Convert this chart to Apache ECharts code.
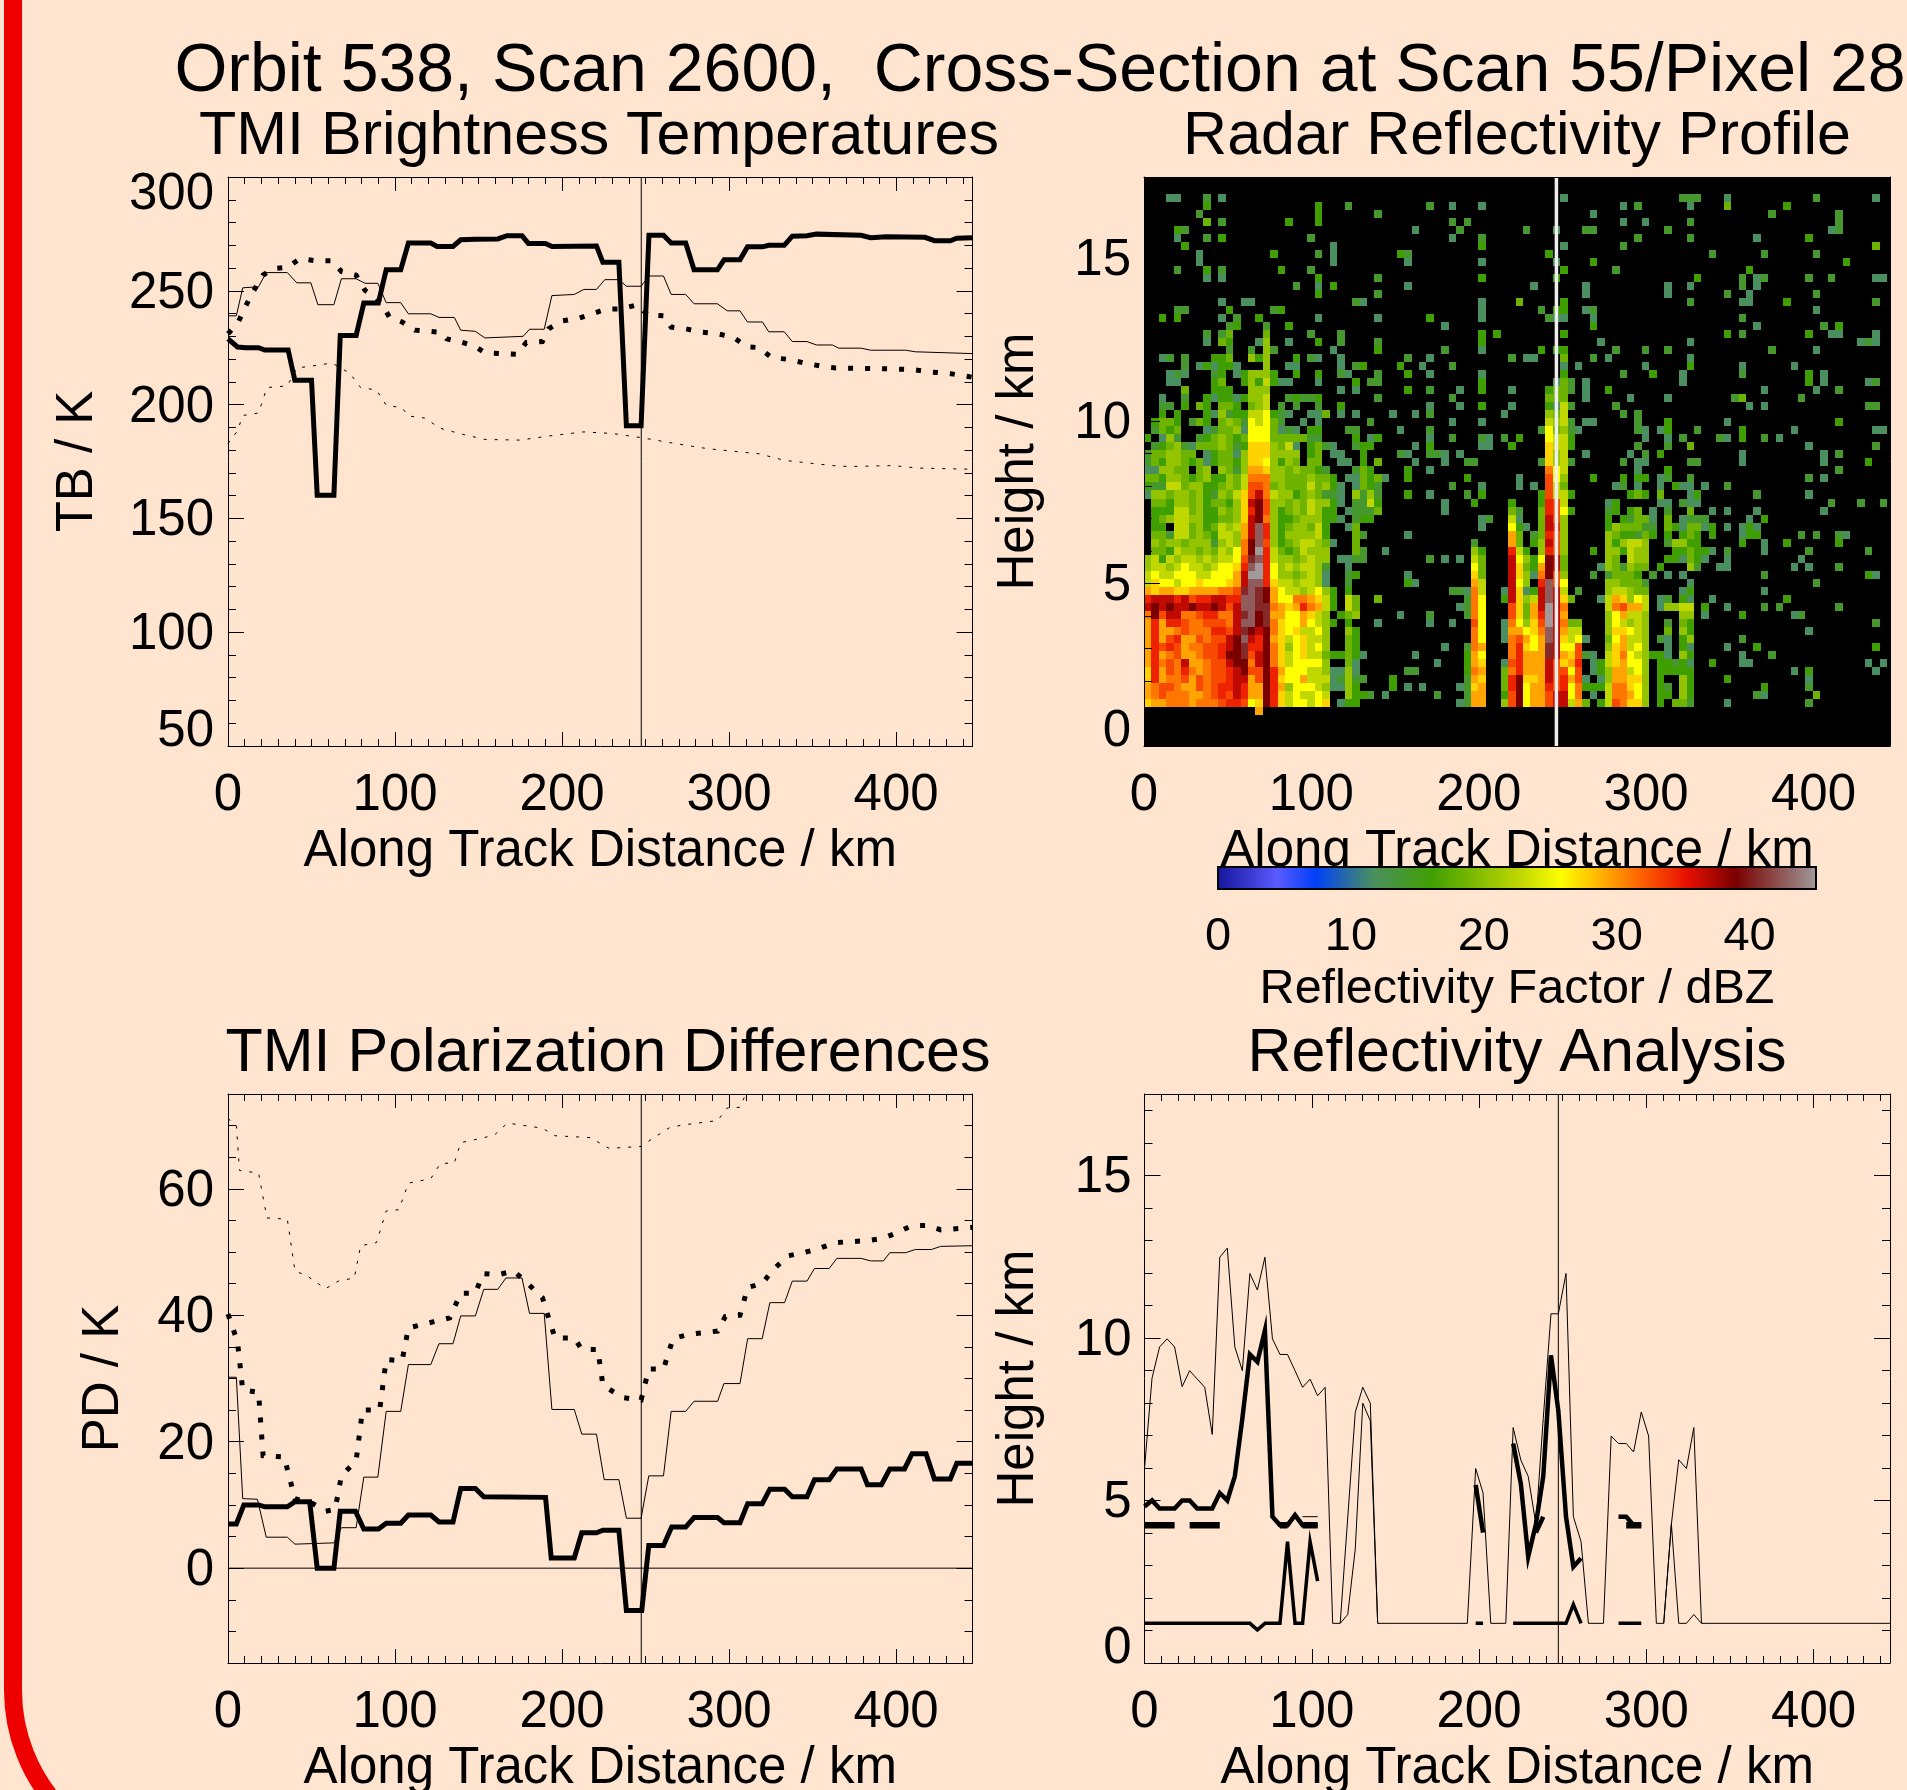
<!DOCTYPE html>
<html><head><meta charset="utf-8">
<style>html,body{margin:0;padding:0;background:#ffe4cf}#c{width:1907px;height:1790px}</style>
<script src="https://cdn.jsdelivr.net/npm/echarts@6/dist/echarts.min.js"></script>
</head><body><div id="c"></div>
<script>
// ---- text
const mainTitle = 'Orbit 538, Scan 2600,  Cross-Section at Scan 55/Pixel 28';
const panelTitles = ['TMI Brightness Temperatures','Radar Reflectivity Profile','TMI Polarization Differences','Reflectivity Analysis'];
const xName = 'Along Track Distance / km';
// ---- ticks
const xMax = 445.7, trackKm = 247.4, radarTrackKm = 246.4;
const distTicks = [0,100,200,300,400];
const tbTicks = [50,100,150,200,250,300];
const pdTicks = [0,20,40,60];
const hTicks = [0,5,10,15];
const dbzTicks = [0,10,20,30,40];
// ---- TB panel: [km, K]
const tbThick = [[0,228.9],[5.7,225.3],[10.7,225],[18.3,225],[22,224],[36,224],[40,210.7],[50,210.7],[53.4,160.2],[63.4,160.2],[67.2,230.4],[76.7,230.4],[81.3,244.6],[90,244.6],[94.7,259.2],[103.4,259.2],[108,271],[121.4,271],[125.2,269.5],[134.7,269.5],[139.3,272.4],[148,272.6],[161.5,272.8],[167,274.2],[176,274.2],[179.8,270.8],[190,270.8],[194,269.5],[220.6,269.7],[224.4,262.5],[234,262.5],[238.5,190.7],[247.3,190.7],[252,274.4],[260.7,274.4],[265.3,271],[274,271],[279,259.2],[293,259.2],[297,263.6],[306.5,263.6],[311,269.3],[320,269.3],[323.7,270],[333,270],[337.8,274],[346.6,274.2],[352.3,274.9],[379,274.4],[384.7,273.3],[394.3,273.7],[417.2,273.5],[423,272],[432.4,272],[436.3,273.1],[445.8,273.3]];
const tbThin = [[0,239],[5,239],[8.8,251.3],[18.3,251.8],[22.9,258],[35.5,258],[41.2,253.5],[49.6,253.5],[53.8,243.9],[63.4,243.9],[67.9,255.3],[76.7,255.3],[82,253.3],[89.7,253.3],[94.7,244.8],[103.4,244.8],[108,239.9],[121.4,239.9],[126.3,238.3],[135.5,238.3],[139.3,232.7],[148,232.2],[153.8,229.3],[176.7,230],[180.5,233.1],[189.3,233.1],[193.9,247.9],[207.3,248.4],[213,250.6],[220.6,250.6],[225.6,254.9],[234,254.9],[238.5,252],[247.3,252],[252,256.5],[260.7,256.5],[265.3,248.4],[274,248.4],[279,244.3],[293,244.3],[298.9,241.2],[306.5,241.2],[311,236.3],[320,236.3],[323.7,232],[333,232],[337.8,227.7],[346.6,227.7],[352.3,226.2],[361.8,226.2],[365.6,224.8],[379,224.8],[384.7,223.9],[405.7,223.9],[411.5,223.2],[445.8,222.4]];
const tbDotThick = [[0,231.1],[5.7,235.6],[10.7,243.4],[14.5,249],[21,256.9],[27.1,259.8],[35.5,260.3],[43.1,264.1],[52.7,263.2],[62.2,263.2],[67.9,258.5],[76.7,256.9],[82,250.2],[88.9,246.8],[92.7,243.4],[96.6,238.5],[104.2,236.3],[111.8,232.7],[127.1,231.8],[130.9,228.9],[138.5,227.7],[148.1,225.5],[153.8,222.8],[172.9,222.1],[178.6,227.3],[188.2,227.7],[192,233.3],[199.6,236.7],[209.2,237.8],[216.8,239.6],[226.3,241.9],[235.9,242.1],[245.4,243.9],[251.1,239.4],[260.7,239],[265.3,234],[274,233.3],[283.6,231.8],[293.1,231.1],[302.7,229.5],[310.3,225.5],[317.9,225],[325.6,220.6],[335.1,219.9],[344.7,218.3],[354.2,217],[363.7,216.1],[390.5,215.8],[409.5,215.4],[421,214.3],[432.4,213.6],[445.8,212]];
const tbDotThin = [[0,182.9],[5.7,188.5],[8.8,195.2],[18.3,196.3],[23.3,207.5],[35.5,208.2],[41.2,216.1],[50.8,217],[62.2,218.3],[72.9,213.8],[79.4,207.5],[88.9,206.4],[94.7,199.7],[104.2,198.6],[108,195],[117.6,194.1],[127.1,189.6],[138.5,187.3],[153.8,184.7],[174.8,184.4],[192,186.2],[213,188],[230.2,187.3],[247.3,185.5],[264.5,183.3],[277.9,181.7],[287.4,180.6],[317.9,178.4],[333.2,175.5],[361.8,173.2],[371.4,172.8],[398.1,173.2],[413.4,172.1],[445.8,171.6]];
// ---- PD panel: [km, K]
const pdThick = [[0,7],[5,7],[9.5,10],[18.3,10],[22.1,9.7],[35.5,9.7],[40.1,10.5],[48.9,10.5],[53.4,0],[63.4,0],[67.2,9],[76.3,9],[81.3,6.2],[90.1,6.2],[94.7,7.1],[103.4,7.1],[108,8.4],[121.4,8.4],[126.3,7.3],[134.7,7.3],[139.3,12.6],[148.1,12.6],[153.1,11.3],[190.1,11.2],[193.5,1.6],[207.3,1.6],[211.8,5.6],[220.6,5.6],[224.4,6],[234,6],[238.5,-6.7],[247.7,-6.7],[251.9,3.6],[260.7,3.6],[265.6,6.5],[274,6.5],[279,8],[293.1,8],[296.9,7.2],[306.5,7.2],[311.1,10.2],[319.8,10.2],[324.4,12.5],[333.2,12.5],[337.8,11.3],[346.6,11.3],[351.1,14],[359.9,14],[364.5,15.7],[379,15.7],[382.8,13.2],[391.2,13.2],[396.2,15.7],[405,15.7],[409.5,18.1],[417.9,18.1],[422.9,14.1],[432.4,14.1],[436.3,16.6],[445.8,16.6]];
const pdThin = [[0,30.2],[5,30.2],[8.8,11],[17.6,10.9],[22.9,4.9],[35.5,4.9],[40.1,3.8],[63.4,4],[67.9,6.4],[76.7,6.4],[81.3,14.4],[89.7,14.4],[94.7,24.8],[103.4,24.8],[108,32.2],[121.4,32.2],[126.3,35.5],[134.7,35.5],[139.3,39.9],[148.1,39.9],[153.1,44.1],[161.5,44.1],[166.4,45.9],[176,45.9],[180.5,40.3],[189.3,40.3],[193.9,25.1],[207.3,25.1],[211.8,21.2],[220.6,21.2],[225.2,14],[234,14],[238.5,7.9],[247.3,7.9],[251.9,14.6],[260.7,14.6],[265.3,24.8],[274,24.8],[279,26.4],[293.1,26.4],[296.9,29.2],[306.5,29.2],[311.1,36.3],[319.8,36.3],[324.4,42],[333.2,42],[337.8,45.4],[346.6,45.4],[351.1,47.4],[359.9,47.4],[364.5,49],[379,49],[384.7,48.6],[392.4,48.6],[396.2,49.9],[405.7,49.9],[411.5,50.4],[421,50.4],[426.7,50.9],[445.8,51]];
const pdDotThick = [[0,40.2],[5.7,35.8],[8.8,28.2],[18.3,27.8],[21,17.8],[33.6,17.6],[40.1,11],[50.8,10.2],[58.4,9],[64.1,9.3],[67.9,14.6],[76.7,17],[80.5,25],[90.8,25],[94.7,33],[104.2,32.8],[108,38],[123.3,39],[132.8,39.6],[139.3,43.5],[148.1,43.5],[152.7,46.6],[161.5,46.4],[171,47],[176.7,45.7],[188.2,42.8],[191.2,40.2],[195.8,36.4],[207.3,36.4],[211.8,34.6],[221.4,34.6],[224.4,29],[235.9,27],[247.3,26.6],[251.9,31.5],[260.7,31.5],[266.4,36.3],[276,37],[293.1,37.5],[297.7,39.8],[306.5,40],[311.1,44.4],[319.8,45],[325.6,47],[335.1,49.4],[344.7,49.9],[354.2,50.6],[363.7,51.5],[382.8,51.8],[392.4,52.2],[400,53],[409.5,54.2],[419.1,54.2],[426.7,53.5],[445.8,53.9]];
const pdDotThin = [[0,71.1],[5,70.1],[6.9,62.9],[18.3,62.5],[23.3,55.4],[35.5,55.2],[40.1,47],[46.9,46.3],[58.4,44.2],[66,45.4],[75.6,45.9],[79.4,51],[88.9,51.5],[94.7,56.5],[102.3,56.7],[108,60.9],[121.4,61.6],[127.1,64],[135.5,64.1],[139.3,67.3],[150,67.9],[159.5,68.5],[167.2,70.4],[188.2,69.6],[195.8,68.4],[216.8,68.1],[228.2,66.4],[247.3,66.7],[255,68.1],[264.5,69.7],[272.1,70.1],[293.1,70.8],[298.9,72.8],[306.5,72.9],[310.3,75.2]];
const pdZero = [[0,0],[xMax,0]];
// ---- reflectivity analysis: [km, height km]
const topThin = [[0,5.98],[4.5,8.76],[9,9.72],[13.5,9.97],[18,9.72],[22.5,8.5],[27,8.99],[36,8.48],[40.5,7.03],[45,12.48],[49.5,12.76],[54,9.72],[58.5,8.99],[63,11.98],[67.5,11.47],[72,12.48],[76.5,9.97],[81,9.49],[85.5,9.49],[90,8.99],[94.5,8.48],[99,8.73],[103.5,8.22],[108,8.48],[112.5,1.22],[117,1.22],[126,7.71],[130.5,8.48],[135,7.99],[139.4,1.22],[193,1.22],[198,5.98],[202.4,5.23],[207,1.22],[216,1.22],[220.4,7.24],[225,6.24],[229.4,5.74],[234,4.27],[238.4,7.52],[243,10.74],[247.4,10.74],[252,11.98],[256.4,4.5],[261,3.73],[265.4,1.22],[274.4,1.22],[279,6.98],[283.4,6.75],[288,6.75],[292.4,6.49],[297,7.72],[301.4,6.98],[306,1.22],[310.4,1.22],[315,4.27],[319.4,6.25],[324,5.98],[328.4,7.24],[333,1.22],[445.7,1.22]];
const lowThinA = [[117,1.22],[121.5,1.49],[126,3.5],[130.5,7.99],[135,7.45],[139.4,1.22]];
const lowThinB = [[310.4,1.22],[315,4.27],[319.4,1.22],[324,1.22],[328.4,1.49],[333,1.22]];
const lowThinC = [[94.5,4.5],[103.5,4.5]];
const midThick = [
 [[0,4.81],[4.5,5],[9,4.75],[18,4.75],[22.5,5],[27,5],[31.5,4.75],[40.5,4.75],[45,5.23],[49.5,5],[54,5.74],[58.5,7.52],[63,9.49],[67.5,9.26],[72,10.23],[76.5,4.5],[81,4.24],[85.5,4.24],[90,4.55],[94.5,4.24],[103.5,4.24]],
 [[198,5.48],[202.4,4.01]],
 [[220.4,6.75],[225,5.51],[229.4,3.27],[234,4.27],[238.4,5.74],[243,9.46],[247.4,7.76],[252,4.5],[256.4,2.96],[261,3.22]],
 [[283.4,4.5],[288,4.5],[292.4,4.24],[297,4.24]],
 [[234,4.01],[238.4,4.5]]
];
const baseThick = [
 [[0,1.22],[63,1.22],[67.5,1.02],[72,1.22],[81,1.22],[85.5,3.73],[90,1.22],[94.5,1.22],[99,3.73],[103.5,2.52]],
 [[198,1.22],[202.4,1.22]],
 [[220.4,1.22],[252,1.22],[256.4,1.8],[261,1.22]],
 [[283.4,1.22],[297,1.22]]
];
const barThick = [
 [[0,4.24],[18,4.24]],[[27,4.24],[45,4.24]],[[81,4.24],[85.5,4.24]],[[94.5,4.24],[103.5,4.24]],[[288,4.24],[297,4.24]]
];
// ---- radar profile: one entry per range bin from the top. "start column + level letters"
const yMaxKm = 17.5, cellKm = 4.44, binKm = 0.2466, baseKm = 1.2;
const levelDbz = {t:11.7,g:14,G:16.1,l:18.5,L:20.5,y:22.8,Y:25.8,o:27.5,a:29.3,O:31,r:32.8,R:34.4,d:36.6,D:38.9,m:40.5,n:42.5,w:45};
const radarBins = [
"","",
"3tt 8g 10t 56t 72ggg 78t 90g 98t",
"8G 23G 27g 38g 41t 45t 64t 66g 73t 78l 86G",
"7g 23G 31g 60t 84g 93g",
"8l 10g 19G 23G 41g 43g 64t 67t 73g 93g",
"4Gg 36t 42g 51g 55t 59gg 70g 92t 93g",
"4t 8g 10G 22g 41t 45g 66g 73g 82t 89G",
"5G 25t 45G 56t 64g 98l",
"7t 17G 23g 25t 34Gg 54G 76g 83g 90g",
"7t 25t 35t 45t 55t 60G 94G",
"4g 8G 10g 18G 22g 56G 63g 81G",
"8t 10t 23G 31g 45G 55G 74G 80g 82tg 89g 92g 98tt",
"20g 23t 25G 35t 52t 59t 70t 73t 80g 82t",
"23G 31g 59t 70t 78g 81t 90g",
"10t 13tt 28gt 45t 50l 56G 73g 80tt 86G 98g",
"4gg 11G 17gG 45t 53g 55GG 59tg 90t",
"2G 4G 10t 12g 15G 23t 31t 38G 45t 54gtt 60t 80g",
"11gG 16g 19G 40t 60G 82t 91g 93G",
"8g 10gl 16l 22g 26g 45G 47G 56G 78G 80g 89G 92tt 98t",
"8t 10lG 15tL 19t 23G 26g 31g 45G 61t 73t 96tgt",
"11g 14g 16Lg 25t 31G 40g 45t 53G 55GG 63g 67g 70g 84g 90t",
"2tg 5g 9GGl 14LGL 20G 22gt 26t 35g 38t 49g 51tt 56l 60g 62t 73t",
"5g 7tG 9tGG 12t 16L 19tt 26t 28gG 34G 37t 41g 56t 58t 67t 73G 80t 87t",
"3tgt 9gG 12tG 14LLL 17G 20G 23G 26gt 31g 35G 38t 45t 56G 64g 68G 72t 80g 89G 91t",
"3tt 9Gl 13GLGyG 18tt 23t 28G 30gg 45G 55tlg 59t 72t 89G 91t 97tg",
"5l 9GGG 14LLL 26t 28t 35G 38g 42t 45G 49t 54Gll 57g 59t 62G 83t 90t 93g",
"2t 5g 8GtGGtG 14LLy 19gG 21ggG 31g 41g 54lll 59t 65t 70t 79gl 88g",
"2gg 5G 7lG 10llG 14lLy 18g 20g 23g 26G 38t 42t 45G 49t 54Gty 57g 63g 81t 83t 97gg",
"2G 4G 8G 9tLgG 13GyyY 17Gg 19t 22tt 24l 26t 28t 33t 36t 38g 48t 54Lly 64g 66g",
"1G 2ll 4G 6gl 8G 10lLlg 14YyY 17lg 21t 23t 30g 41t 45t 54yLyg 59tt 66g 70G 78t 93G",
"1gl 3Gl 8tgllLt 14YYY 17lt 19gt 22GG 27gg 34t 38g 53gY 55lLgt 66gt 69tG 74g 80G 87t 98tt",
"0G 2tLg 7gGlLlGl 14YYY 17lllllg 23g 28G 30tG 38t 41g 45gt 48g 50G 54Yyy 57G 67t 70t 72g 77gt 80G 83g 85t",
"1gGlLgt 7lllLl 12gG 14ooo 17Lly 20t 22Gl 24gt 28gGG 36t 38G 45tt 49G 54oyyG 66g 70g 73l 89t 98g",
"0g 1llLLll 8tGll 12tL 14ooo 17LLLL 22Gl 25tt 29G 34gt 38ggt 42t 54oLy 59t 65t 67g 69G 80t 91t 93g",
"0glGLLlGlt 9GllGL 14ooY 17LGLl 22ll 26tt 29G 31l 36t 40t 43gg 53goLyg 64g 66tt 73gg 80t 91t 97G",
"0ttLLll 7lL 10LlgL 14aao 17LLlLllGg 28glG 35G 38t 54OYy 66t 70G 93g",
"0llGLLlGlLGGLlyOOOLLlllLllG 27ttlGlt 35G 43G 50t 54rYL 60G 64G 66GG 69tg 73g 89g 91t",
"0GggyylLLGGlLlyrrOlLlllylLGt 28tlGg 41g 45t 50t 52t 54ryl 63tg 66t 69t 71Gtt 75t 78g",
"0tLLlLLlLGgLlyordOyLLGlLlggt 28LgLg 35G 38t 43g 45G 53G 54ryy 57G 65GlG 69l 73tG 82g 89t",
"1llGLLlLGllGLodDrLLlLlyLLGt 28ggyG 40t 44G 49G 53GRry 62tG 69tt 72gtt 92g 96g 99g",
"1GGGyylLGGLlLoRDrLGlLlyLGG 27tgggl 40t 49lg 53lRrYG 62gG 65Gl 68t 70g 73l 76t 78t 82t 91t",
"1GlLyyLLGGllLodDOLGGlLLLGGt 28gGG 45tg 49yt 53ldrL 62G 64Ggllt 70l 72tggg 81t 83G",
"1GG 4yylLGlyLyadnRLGlLLlyG 27tl 45t 49YGt 53ldRL 62GLlllg 68g 70lG 72tllt 76G 78t 80tGt",
"1llg 4yylLlGyyLadnRLGLLLLyG 28lg 35t 49al 52glR 55rL 62LlGGglG 70G 72GlG 76G 80tGG 88g 90g 93gt",
"1LlLLlLLLgLyLODnrLGlLyyLlt 28l 44g 49al 52GLdrL 62LGLyyL 70gLLGG 80G 83t 86G 93G",
"1llGyLLlLlyLYODwRylGlyLLL 28lg 32t 44LG 49RyG 53LRrL 60G 62LLGyLL 71GGlGGt 78g 83t 89g 97g",
"0LyGyLyyLyLyyYrmnRyLLlLyLL 26ttgg 38g 40t 42t 44yl 49dYLGYDdl 62Ll 65yLL 70GGt 73lGt 78t 88t",
"0LyyLyYyyLyYYoRnwRYLyLyyLg 27t 44Yl 49dolGaDdl 61tLlgLll 69G 73Lg 77tt 87t 89t 93g",
"0yYyyYYYyyYYYadwwRYLLlLyLt 27gG 35t 44ol 49doLtODrL 60g 62glllG 68g 70t 72t 83g 97Gt",
"0yoYYyYYoYYYoadnnRoyyLyyLt 27g 35Gt 44ay 49dYL 53RnrY 62LLlllg 73t 90g",
"0aoaaooaaaaOOrmnmDaYyyLyYLG 27G 41ggt 44Oy 48tdotGdndy 58g 62LyyLll 72tG 83t",
"0RdddRdrRRddRRnnmDaYYOOaoyG 27yl 31l 43g 44OY 48GdoLydndol 61tyaoLYy 69tg 72Gt 76t 86G",
"0dDdDddDddDdrdnnmmOaoaROayG 27yl 42tg 44OY 49roladwdO 62yOraay 69tLLyy 75G 78t 83g 85g 93g",
"0ODrddOOrRROOdmnDmaaYYaoyL 26GlL 34t 38g 43g 44OY 49rolaRwda 62LYayyL 72LL 75t 80G 87tg",
"0aRaRRrOOrrrOdnnDmOoYYaYyLG 27G 31t 38t 41t 44rY 48tOYLorwdOll 62LYyLyL 70g 72lG 98g",
"0aRaaOrOOORRrdmDdDOoYoyyYL 27LG 44OY 48taaYoOndayy 62LooYyL 70l 72LG 89t",
"0aRarRaarOrrdDndRDaoyYoyyL 27lG 44OY 48tOraYandoyYt 62lYayyL 69gt 72GL 80g",
"0aRrRraOOrrRdDmRRDOoLYoyYL 27lG 40t 43g 44Oa 49ORoYamdYYr 62LoayYL 70t 72Gt 78t 82G 98G",
"0aRaOraaOrrRDDmrdDOoyYoyyl 25GGlGt 36t 43G 44aY 49ORaaamdaorgt 62yoOYyLGGt 72LG 80t 84g",
"0aROrOdaaOrrdDDOdDOoyYYYYL 27lt 39t 43G 44ao 48trRaaadroaR 60tGyoaYYL 69GGgGt 76G 80tt 97t 99t",
"0oRarOROaOrrRdDrrDRaYYYyyL 25ttLt 35gg 43G 44Oa 48lORaaadrrYr 60tGLaayYL 69GGGGG 87t 89G 98t",
"0oRaOOrarOrrRddarDRoYYayyy 25tgLgg 33G 43g 44ao 48lRDooadrRar 59t 61tLaaooL 69G 72LG 78G 89t",
"0aOrrOaarOrRRdRaaDRaLYYYyL 25ttLG 33G 35t 37t 42t 43g 44oa 48lRDYaaRrRYO 59GGGyOOoYL 69Gg 72LG 83G 89g",
"0aOrOOOaaOrRrdRaaDRoyYyyYy 27LGGg 32t 39g 43g 44aa 48GrDYaarddYO 60t 62yOOaYL 69GG 72LG 82gt 90l",
"0oaaOOOaOOOrRRrYoDRoyYYyYo 26tGG 42tg 44aa 48LrDYaarddyal 61GyrOooL 69G 71llg 78t 89g",
"15a"
];
// ---- colour bar: [dBZ, colour]
const dbzMax = 45;
const colorStops = [[0,'#14149a'],[4.5,'#5a5aff'],[7.4,'#0040f8'],[11.7,'#4a8f60'],[16.1,'#409f00'],[22.8,'#c0d800'],[25.8,'#ffff00'],[31.5,'#ff6a00'],[35.2,'#e81000'],[38.9,'#7a0000'],[45,'#a09a9a']];

// ---- helpers
function hex(c){return [1,3,5].map(i=>parseInt(c.substr(i,2),16));}
function dbzColor(v){
  for(let i=1;i<colorStops.length;i++){
    if(v<=colorStops[i][0]){
      const a=colorStops[i-1],b=colorStops[i],t=(v-a[0])/(b[0]-a[0]);
      const p=hex(a[1]),q=hex(b[1]);
      return 'rgb('+p.map((x,k)=>Math.round(x+(q[k]-x)*t)).join(',')+')';
    }
  }
  return colorStops[colorStops.length-1][1];
}
const radarCells=[];
radarBins.forEach((row,r)=>{
  row.split(' ').forEach(seg=>{
    const m=seg.match(/^(\d+)(\D+)$/); if(!m) return;
    const start=+m[1];
    [...m[2]].forEach((ch,i)=>{
      const c=start+i, top=baseKm+(66-r)*binKm;
      radarCells.push([c*cellKm,top-binKm,(c+1)*cellKm,top,levelDbz[ch]]);
    });
  });
});
function steps(min,max,step,skip){const a=[];for(let v=Math.ceil(min/step)*step;v<=max+1e-9;v+=step){if(!skip.includes(v))a.push(v);}return a;}

const FONT='Liberation Sans', INK='#000', TICK=51;
const panels=[
 {left:228,top:177,w:744.5,h:569,ymin:50,ymax:300,ticks:tbTicks,minor:10,yName:'TB / K',yGap:125,shiftMin:28,shiftMax:36,margin:14},
 {left:1144,top:177,w:746,h:569,ymin:0,ymax:yMaxKm,ticks:hTicks,minor:1,yName:'Height / km',yGap:100,shiftMin:29,shiftMax:0,margin:13,black:true},
 {left:228,top:1094,w:744.5,h:569,ymin:-15,ymax:75,ticks:pdTicks,minor:5,yName:'PD / K',yGap:99,shiftMin:0,shiftMax:0,margin:14},
 {left:1144.5,top:1094,w:745.5,h:569,ymin:0,ymax:yMaxKm,ticks:hTicks,minor:1,yName:'Height / km',yGap:100,shiftMin:29,shiftMax:0,margin:13}
];
const grid=[],xAxis=[],yAxis=[];
const lineS={color:INK,width:1};
const base={fontFamily:FONT,fontSize:TICK,color:INK};
panels.forEach((p,i)=>{
  grid.push({left:p.left,top:p.top,width:p.w,height:p.h,outerBoundsMode:'none',show:!!p.black,backgroundColor:p.black?'#000':'transparent',borderWidth:0});
  const xBase={type:'value',gridIndex:i,min:0,max:xMax,splitLine:{show:false},z:5,silent:true};
  const yBase={type:'value',gridIndex:i,min:p.ymin,max:p.ymax,splitLine:{show:false},z:5,silent:true};
  const minorX=steps(0,xMax,10,distTicks), minorY=steps(p.ymin,p.ymax,p.minor,p.ticks);
  const on={onZero:false,lineStyle:lineS}, off={show:false,onZero:false};
  const lo=p.ticks[0], hi=p.ticks[p.ticks.length-1];
  xAxis.push({...xBase,position:'bottom',name:xName,nameLocation:'middle',nameGap:80,nameMoveOverlap:false,
    nameTextStyle:{...base},axisLine:on,
    axisTick:{inside:true,length:14,customValues:distTicks,lineStyle:lineS},
    axisLabel:{customValues:distTicks,margin:24,...base,hideOverlap:false}});
  xAxis.push({...xBase,position:'top',axisLine:on,axisTick:{inside:true,length:14,customValues:distTicks,lineStyle:lineS},axisLabel:{show:false}});
  xAxis.push({...xBase,position:'bottom',axisLine:off,axisTick:{inside:true,length:7,customValues:minorX,lineStyle:lineS},axisLabel:{show:false}});
  xAxis.push({...xBase,position:'top',axisLine:off,axisTick:{inside:true,length:7,customValues:minorX,lineStyle:lineS},axisLabel:{show:false}});
  yAxis.push({...yBase,position:'left',name:p.yName,nameLocation:'middle',nameGap:p.yGap,nameRotate:90,nameMoveOverlap:false,
    nameTextStyle:{...base},axisLine:on,
    axisTick:{inside:true,length:16,customValues:p.ticks,lineStyle:lineS},
    axisLabel:{customValues:p.ticks,margin:p.margin,...base,hideOverlap:false,
      formatter:v=>(v===lo&&p.shiftMin)?'{low|'+v+'}':(v===hi&&p.shiftMax)?'{high|'+v+'}':'{mid|'+v+'}',
      rich:{mid:{...base,padding:[6,0,0,0]},low:{...base,padding:[0,0,p.shiftMin,0]},high:{...base,padding:[p.shiftMax,0,0,0]}}}});
  yAxis.push({...yBase,position:'right',axisLine:on,axisTick:{inside:true,length:16,customValues:p.ticks,lineStyle:lineS},axisLabel:{show:false}});
  yAxis.push({...yBase,position:'left',axisLine:off,axisTick:{inside:true,length:8,customValues:minorY,lineStyle:lineS},axisLabel:{show:false}});
  yAxis.push({...yBase,position:'right',axisLine:off,axisTick:{inside:true,length:8,customValues:minorY,lineStyle:lineS},axisLabel:{show:false}});
});
// colour-bar grid
grid.push({left:1218,top:867,width:598,height:22,show:false,outerBoundsMode:'none'});
xAxis.push({type:'value',gridIndex:4,min:0,max:dbzMax,position:'bottom',splitLine:{show:false},axisLine:{show:false,onZero:false},axisTick:{show:false},
  name:'Reflectivity Factor / dBZ',nameLocation:'middle',nameGap:76,nameMoveOverlap:false,nameTextStyle:{fontFamily:FONT,fontSize:48.5,color:INK},
  axisLabel:{customValues:dbzTicks,margin:25,fontFamily:FONT,fontSize:47,color:INK,hideOverlap:false}});
yAxis.push({type:'value',gridIndex:4,min:0,max:1,show:false});

const ax=i=>({xAxisIndex:4*i,yAxisIndex:4*i});
function line(panel,data,width,dash,z){
  return {type:'line',...ax(panel),data,showSymbol:false,symbol:'none',animation:false,silent:true,z:z||3,
    lineStyle:{color:INK,width,type:dash||'solid',cap:'butt',join:'miter'}};
}
const DOT_THICK=[5,12], DOT_THIN=[3,8];
const series=[];
// TB
series.push(line(0,tbThin,1),line(0,tbDotThin,1,DOT_THIN),line(0,tbDotThick,5,DOT_THICK),line(0,tbThick,5));
series.push(line(0,[[trackKm,50],[trackKm,300]],1));
// radar
series.push({type:'custom',...ax(1),data:radarCells,animation:false,silent:true,z:2,encode:{x:[0,2],y:[1,3]},
  renderItem(params,api){
    const a=api.coord([api.value(0),api.value(1)]),b=api.coord([api.value(2),api.value(3)]);
    const x=Math.round(a[0]),y=Math.round(b[1]);
    return {type:'rect',shape:{x,y,width:Math.round(b[0])-x,height:Math.round(a[1])-y},style:{fill:dbzColor(api.value(4)),stroke:null}};
  }});
series.push({...line(1,[[radarTrackKm,0],[radarTrackKm,yMaxKm]],3.5),z:4,lineStyle:{color:'#eeeeee',width:3.5}});
// PD
series.push(line(2,pdThin,1),line(2,pdDotThin,1,DOT_THIN),line(2,pdDotThick,5,DOT_THICK),line(2,pdThick,5),line(2,pdZero,1));
series.push(line(2,[[trackKm,-15],[trackKm,75]],1));
// analysis
series.push(line(3,topThin,1),line(3,lowThinA,1),line(3,lowThinB,1),line(3,lowThinC,1));
midThick.forEach(s=>series.push(line(3,s,4.5)));
baseThick.forEach(s=>series.push(line(3,s,3.5)));
barThick.forEach(s=>series.push(line(3,s,6.5)));
series.push(line(3,[[trackKm,0],[trackKm,yMaxKm]],1));
// colour bar
series.push({type:'custom',xAxisIndex:16,yAxisIndex:16,data:[[0,0,dbzMax,1]],animation:false,silent:true,z:10,encode:{x:[0,2],y:[1,3]},
  renderItem(params,api){
    const a=api.coord([api.value(0),api.value(1)]),b=api.coord([api.value(2),api.value(3)]);
    return {type:'rect',shape:{x:a[0],y:b[1],width:b[0]-a[0],height:a[1]-b[1]},
      style:{stroke:'#000',lineWidth:2,fill:new echarts.graphic.LinearGradient(0,0,1,0,colorStops.map(s=>({offset:s[0]/dbzMax,color:s[1]})))}};
  }});

const titleStyle=size=>({fontFamily:FONT,fontSize:size,fontWeight:'normal',color:INK});
const title=[{text:mainTitle,left:1040,top:72,textAlign:'center',textVerticalAlign:'middle',textStyle:titleStyle(68),padding:0}];
[[599,137],[1517,137],[608,1054],[1517,1054]].forEach((pos,i)=>{
  title.push({text:panelTitles[i],left:pos[0],top:pos[1],textAlign:'center',textVerticalAlign:'middle',textStyle:titleStyle(61),padding:0});
});

const chart=echarts.init(document.getElementById('c'),null,{renderer:'canvas',width:1907,height:1790});
chart.setOption({animation:false,backgroundColor:'#ffe4cf',tooltip:{show:false},title,grid,xAxis,yAxis,series,
  graphic:[{type:'rect',silent:true,z:0,shape:{x:13,y:-200,width:3000,height:2063,r:173},style:{fill:'transparent',stroke:'#ee0000',lineWidth:18}}]});
</script></body></html>
